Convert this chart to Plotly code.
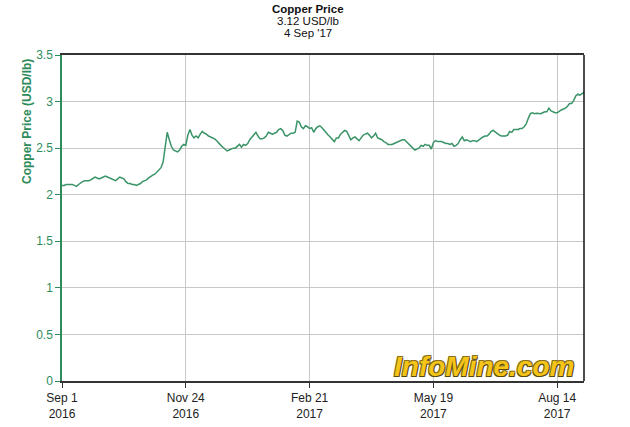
import plotly.graph_objects as go

# Copper price, USD/lb, one value per trading day (Sep 1 2016 .. Sep 4 2017)
prices = [
    2.10, 2.10, 2.11, 2.11, 2.11, 2.11, 2.10, 2.09, 2.11, 2.13,
    2.14, 2.15, 2.15, 2.15, 2.16, 2.18, 2.19, 2.18, 2.17, 2.18,
    2.19, 2.20, 2.19, 2.18, 2.17, 2.16, 2.15, 2.17, 2.19, 2.18,
    2.17, 2.14, 2.12, 2.12, 2.11, 2.11, 2.10, 2.11, 2.12, 2.14,
    2.15, 2.16, 2.18, 2.20, 2.21, 2.22, 2.24, 2.27, 2.29, 2.35,
    2.50, 2.67, 2.59, 2.52, 2.48, 2.47, 2.46, 2.48, 2.52, 2.54,
    2.53, 2.64, 2.70, 2.64, 2.61, 2.63, 2.61, 2.65, 2.68, 2.66,
    2.65, 2.63, 2.62, 2.61, 2.60, 2.58, 2.55, 2.53, 2.51, 2.49,
    2.47, 2.48, 2.49, 2.50, 2.50, 2.52, 2.54, 2.51, 2.54, 2.53,
    2.55, 2.59, 2.62, 2.64, 2.67, 2.63, 2.60, 2.60, 2.61, 2.63,
    2.67, 2.66, 2.65, 2.66, 2.67, 2.70, 2.71, 2.69, 2.64, 2.63,
    2.65, 2.66, 2.66, 2.67, 2.79, 2.78, 2.73, 2.71, 2.74, 2.73,
    2.71, 2.72, 2.67, 2.71, 2.73, 2.74, 2.72, 2.69, 2.66, 2.64,
    2.62, 2.60, 2.57, 2.61, 2.61, 2.65, 2.67, 2.69, 2.68, 2.64,
    2.59, 2.61, 2.62, 2.60, 2.58, 2.61, 2.64, 2.65, 2.66, 2.64,
    2.61, 2.63, 2.66, 2.61, 2.60, 2.59, 2.57, 2.56, 2.54, 2.54,
    2.54, 2.55, 2.56, 2.57, 2.58, 2.59, 2.59, 2.57, 2.55, 2.52,
    2.50, 2.48, 2.49, 2.50, 2.53, 2.52, 2.54, 2.53, 2.53, 2.49,
    2.56, 2.58, 2.57, 2.57, 2.57, 2.56, 2.55, 2.55, 2.54, 2.55,
    2.52, 2.53, 2.55, 2.59, 2.62, 2.58, 2.59, 2.58, 2.57, 2.58,
    2.58, 2.57, 2.59, 2.61, 2.62, 2.63, 2.63, 2.65, 2.68, 2.69,
    2.67, 2.65, 2.64, 2.63, 2.63, 2.63, 2.64, 2.68, 2.67, 2.70,
    2.70, 2.70, 2.71, 2.71, 2.73, 2.76, 2.82, 2.87, 2.88, 2.87,
    2.875, 2.87, 2.87, 2.88, 2.89, 2.89, 2.93, 2.90, 2.89, 2.88,
    2.88, 2.90, 2.91, 2.92, 2.93, 2.95, 2.98, 2.98, 3.01, 3.06,
    3.08, 3.07, 3.09, 3.10,
]
days = list(range(len(prices)))

tick_days = [0, 60, 120, 180, 240]
tick_labels = ["Sep 1<br>2016", "Nov 24<br>2016", "Feb 21<br>2017",
               "May 19<br>2017", "Aug 14<br>2017"]
y_ticks = [0, 0.5, 1, 1.5, 2, 2.5, 3, 3.5]
y_tick_labels = ["0", "0.5", "1", "1.5", "2", "2.5", "3", "3.5"]

GREEN = "#2e8b5a"
FONT = "Arial, Liberation Sans, sans-serif"

W, H = 630, 427
L, T, R, B = 62, 55, 630 - 584, 427 - 381
plot_w = W - L - R
plot_h = H - T - B


def px_x(px):
    return (px - L) / plot_w


def px_y(py):
    return (H - B - py) / plot_h


fig = go.Figure()
fig.add_trace(go.Scatter(
    x=days, y=prices, mode="lines",
    line=dict(color="#3a9468", width=1.5),
    hoverinfo="skip", showlegend=False,
))

fig.update_layout(
    width=W, height=H, autosize=False,
    margin=dict(l=L, r=R, t=T, b=B, autoexpand=False),
    paper_bgcolor="white", plot_bgcolor="white",
    font=dict(family=FONT, size=12, color="#222"),
    xaxis=dict(
        range=[0, len(prices) - 1], automargin=False,
        tickmode="array", tickvals=tick_days, ticktext=tick_labels,
        showgrid=True, gridcolor="#c8c8c8", gridwidth=1,
        showline=True, linecolor="#333", linewidth=1.5, mirror=True,
        ticks="outside", ticklen=5, tickcolor="#333",
        tickfont=dict(family=FONT, size=12, color="#222"),
        zeroline=False,
    ),
    yaxis=dict(
        range=[0, 3.5], automargin=False,
        tickmode="array", tickvals=y_ticks, ticktext=y_tick_labels,
        showgrid=True, gridcolor="#c8c8c8", gridwidth=1,
        showline=True, linecolor=GREEN, linewidth=1.5,
        ticks="outside", ticklen=5, tickcolor=GREEN,
        tickfont=dict(family=FONT, size=12, color=GREEN),
        zeroline=False,
    ),
    shapes=[
        dict(type="line", xref="paper", yref="paper", x0=1, x1=1, y0=0, y1=1,
             line=dict(color="#111", width=1.5)),
    ],
    annotations=[
        dict(text="<b>Copper Price</b>", x=px_x(308), y=px_y(9), xref="paper", yref="paper",
             yanchor="middle", showarrow=False, font=dict(family=FONT, size=11.5, color="#111")),
        dict(text="3.12 USD/lb", x=px_x(308), y=px_y(21), xref="paper", yref="paper",
             yanchor="middle", showarrow=False, font=dict(family=FONT, size=11.5, color="#111")),
        dict(text="4 Sep '17", x=px_x(308), y=px_y(33), xref="paper", yref="paper",
             yanchor="middle", showarrow=False, font=dict(family=FONT, size=11.5, color="#111")),
        dict(text="<b>Copper Price (USD/lb)</b>", x=px_x(27), y=px_y(122),
             xref="paper", yref="paper", xanchor="center", yanchor="middle",
             textangle=-90, showarrow=False,
             font=dict(family=FONT, size=12, color=GREEN)),
        dict(text="InfoMine.com", xref="paper", yref="paper",
             x=px_x(576), y=px_y(366), xanchor="right", yanchor="middle", showarrow=False,
             font=dict(family=FONT, size=28, color="#f4c518", weight="bold",
                       style="italic",
                       shadow="1px 1px 0 #5a4a10, -1px -1px 0 #8a7020, 1px -1px 0 #8a7020, -1px 1px 0 #5a4a10")),
    ],
)

fig.write_html(
    "out.html",
    config={"displayModeBar": False},
    post_script="document.body.style.margin='0';document.body.style.overflow='hidden';",
)
